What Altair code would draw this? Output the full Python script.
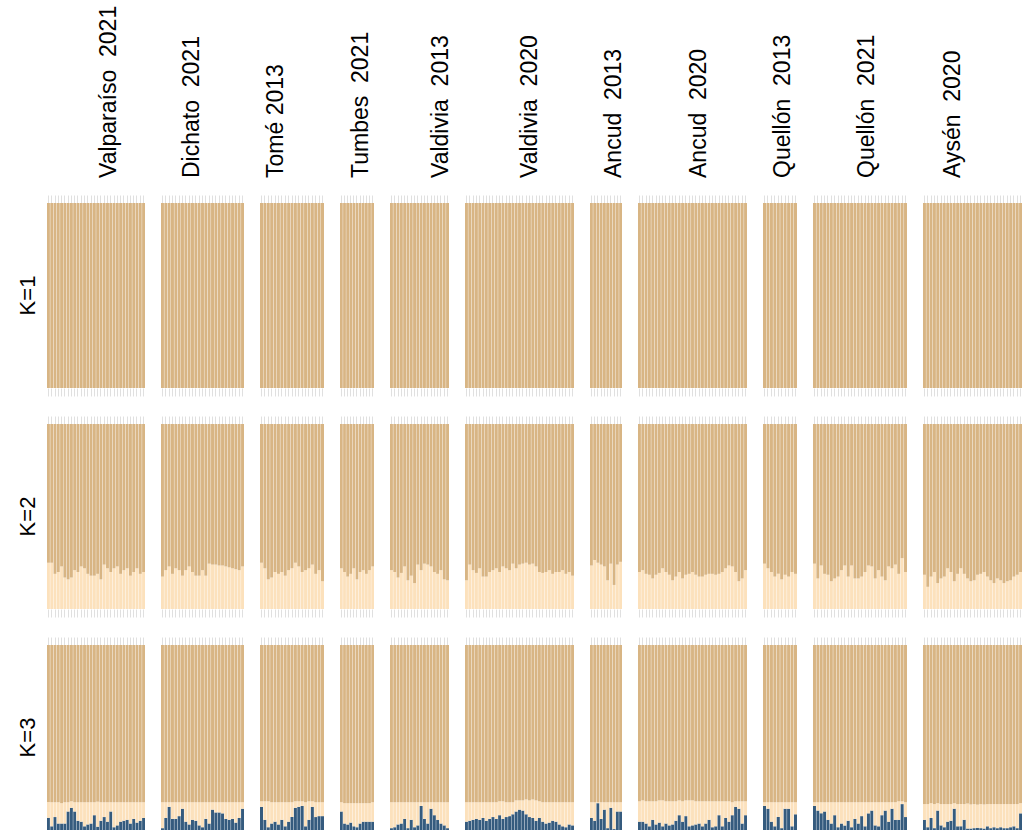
import altair as alt
import pandas as pd

# Population / sampling-year labels, left to right (non-breaking spaces keep the double gap)
populations = [
    "Valparaíso\u00a0\u00a02021", "Dichato\u00a0\u00a02021", "Tomé\u00a02013", "Tumbes\u00a0\u00a02021",
    "Valdivia\u00a0\u00a02013", "Valdivia\u00a0\u00a02020", "Ancud\u00a0\u00a02013", "Ancud\u00a0\u00a02020",
    "Quellón\u00a0\u00a02013", "Quellón\u00a0\u00a02021", "Aysén\u00a0\u00a02020",
]
k_rows = ["K=1", "K=2", "K=3"]

# K=2: membership in the light cluster for each individual (same order as populations)
k2_light = [
    [0.25, 0.25, 0.19, 0.20, 0.23, 0.17, 0.16, 0.17, 0.21, 0.20, 0.23, 0.22, 0.19, 0.18, 0.18,
     0.19, 0.16, 0.24, 0.22, 0.20, 0.22, 0.23, 0.19, 0.21, 0.22, 0.18, 0.20, 0.22, 0.19, 0.20],
    [0.175, 0.21, 0.23, 0.19, 0.22, 0.21, 0.18, 0.21, 0.23, 0.20, 0.18, 0.18, 0.21, 0.18, 0.245,
     0.24, 0.24, 0.235, 0.235, 0.23, 0.225, 0.22, 0.215, 0.21, 0.23],
    [0.25, 0.22, 0.16, 0.17, 0.20, 0.19, 0.20, 0.18, 0.21, 0.22, 0.25, 0.23, 0.20, 0.21, 0.22, 0.24,
     0.19, 0.21, 0.15],
    [0.22, 0.20, 0.175, 0.19, 0.22, 0.16, 0.20, 0.21, 0.19, 0.21, 0.23],
    [0.21, 0.20, 0.17, 0.195, 0.23, 0.155, 0.18, 0.14, 0.24, 0.21, 0.245, 0.24, 0.23, 0.20, 0.19,
     0.21, 0.16, 0.155],
    [0.155, 0.24, 0.21, 0.195, 0.22, 0.175, 0.175, 0.20, 0.21, 0.22, 0.20, 0.23, 0.22, 0.21, 0.245,
     0.22, 0.24, 0.245, 0.25, 0.24, 0.245, 0.23, 0.20, 0.195, 0.20, 0.21, 0.19, 0.20, 0.20, 0.21,
     0.19, 0.20, 0.18],
    [0.235, 0.265, 0.25, 0.24, 0.23, 0.155, 0.245, 0.13, 0.24, 0.255],
    [0.20, 0.21, 0.19, 0.185, 0.165, 0.185, 0.195, 0.22, 0.20, 0.185, 0.155, 0.175, 0.20, 0.165, 0.185,
     0.19, 0.20, 0.185, 0.175, 0.175, 0.185, 0.19, 0.19, 0.185, 0.19, 0.20, 0.22, 0.235, 0.23, 0.20,
     0.15, 0.165, 0.21],
    [0.245, 0.22, 0.20, 0.175, 0.19, 0.16, 0.185, 0.175, 0.20, 0.19],
    [0.245, 0.165, 0.235, 0.19, 0.185, 0.15, 0.165, 0.175, 0.21, 0.235, 0.175, 0.235, 0.165, 0.165,
     0.175, 0.20, 0.235, 0.23, 0.165, 0.21, 0.175, 0.155, 0.23, 0.22, 0.24, 0.19, 0.275, 0.20],
    [0.185, 0.12, 0.175, 0.20, 0.14, 0.165, 0.175, 0.22, 0.20, 0.15, 0.19, 0.22, 0.19, 0.165, 0.15,
     0.155, 0.185, 0.19, 0.20, 0.175, 0.155, 0.14, 0.165, 0.155, 0.14, 0.15, 0.155, 0.175, 0.185, 0.20],
]

# K=3: membership in the dark cluster
k3_dark = [
    [0.066, 0.02, 0.07, 0.035, 0.035, 0.035, 0.10, 0.12, 0.10, 0.05, 0.045, 0.02, 0.03, 0.035,
     0.08, 0.018, 0.05, 0.07, 0.045, 0.10, 0.015, 0.025, 0.045, 0.05, 0.055, 0.035, 0.06, 0.04,
     0.05, 0.065],
    [0.01, 0.065, 0.125, 0.06, 0.06, 0.075, 0.115, 0.045, 0.03, 0.055, 0.05, 0.025, 0.015, 0.06,
     0.035, 0.11, 0.095, 0.095, 0.09, 0.06, 0.055, 0.06, 0.04, 0.065, 0.115],
    [0.125, 0.055, 0.015, 0.035, 0.045, 0.03, 0.055, 0.02, 0.045, 0.07, 0.12, 0.125, 0.13, 0.02, 0.055,
     0.125, 0.07, 0.075, 0.075],
    [0.10, 0.035, 0.03, 0.04, 0.02, 0.015, 0.035, 0.045, 0.045, 0.045, 0.045],
    [0.01, 0.015, 0.03, 0.035, 0.06, 0.01, 0.055, 0.015, 0.025, 0.13, 0.06, 0.035, 0.115, 0.08,
     0.055, 0.035, 0.025, 0.01],
    [0.045, 0.05, 0.055, 0.06, 0.055, 0.065, 0.05, 0.06, 0.07, 0.06, 0.08, 0.06, 0.07, 0.075, 0.085,
     0.10, 0.11, 0.105, 0.085, 0.07, 0.065, 0.05, 0.065, 0.045, 0.035, 0.04, 0.05, 0.045, 0.03,
     0.02, 0.015, 0.03, 0.025],
    [0.065, 0.05, 0.145, 0.06, 0.11, 0.01, 0.12, 0.005, 0.10, 0.10],
    [0.045, 0.045, 0.035, 0.02, 0.055, 0.03, 0.04, 0.02, 0.035, 0.025, 0.03, 0.05, 0.08, 0.045, 0.075,
     0.02, 0.025, 0.03, 0.035, 0.02, 0.035, 0.055, 0.015, 0.02, 0.08, 0.02, 0.065, 0.045, 0.08, 0.125,
     0.115, 0.035, 0.08],
    [0.13, 0.115, 0.045, 0.02, 0.07, 0.01, 0.115, 0.115, 0.02, 0.085],
    [0.13, 0.105, 0.09, 0.10, 0.055, 0.035, 0.08, 0.015, 0.035, 0.025, 0.05, 0.015, 0.06, 0.035,
     0.075, 0.02, 0.09, 0.105, 0.025, 0.02, 0.08, 0.105, 0.045, 0.115, 0.055, 0.055, 0.14, 0.07],
    [0.055, 0.015, 0.065, 0.01, 0.105, 0.025, 0.015, 0.045, 0.05, 0.115, 0.02, 0.02, 0.055, 0.008,
     0.008, 0.01, 0.012, 0.01, 0.008, 0.02, 0.01, 0.015, 0.01, 0.015, 0.01, 0.01, 0.015, 0.02, 0.01,
     0.09],
]

# K=3: membership in the light cluster
k3_light = [
    [0.085, 0.13, 0.08, 0.115, 0.11, 0.115, 0.05, 0.035, 0.05, 0.10, 0.105, 0.13, 0.12, 0.115,
     0.07, 0.135, 0.10, 0.08, 0.105, 0.05, 0.135, 0.125, 0.105, 0.10, 0.095, 0.115, 0.09, 0.11,
     0.10, 0.085],
    [0.14, 0.085, 0.025, 0.09, 0.09, 0.075, 0.035, 0.105, 0.12, 0.095, 0.10, 0.125, 0.135, 0.09,
     0.115, 0.04, 0.055, 0.055, 0.06, 0.09, 0.095, 0.09, 0.11, 0.085, 0.035],
    [0.03, 0.10, 0.14, 0.115, 0.105, 0.12, 0.095, 0.13, 0.105, 0.08, 0.035, 0.03, 0.025, 0.13, 0.10,
     0.03, 0.08, 0.075, 0.075],
    [0.05, 0.11, 0.115, 0.105, 0.125, 0.13, 0.11, 0.10, 0.10, 0.10, 0.105],
    [0.14, 0.135, 0.12, 0.115, 0.09, 0.14, 0.095, 0.135, 0.125, 0.02, 0.09, 0.115, 0.035, 0.07,
     0.095, 0.115, 0.125, 0.14],
    [0.105, 0.10, 0.095, 0.09, 0.095, 0.085, 0.10, 0.09, 0.08, 0.09, 0.075, 0.095, 0.08, 0.075,
     0.065, 0.06, 0.05, 0.055, 0.08, 0.09, 0.10, 0.11, 0.09, 0.105, 0.115, 0.11, 0.10, 0.105, 0.12,
     0.13, 0.135, 0.12, 0.125],
    [0.085, 0.10, 0.005, 0.09, 0.04, 0.14, 0.03, 0.145, 0.05, 0.05],
    [0.11, 0.115, 0.12, 0.135, 0.10, 0.125, 0.12, 0.14, 0.12, 0.13, 0.125, 0.105, 0.08, 0.11, 0.085,
     0.14, 0.135, 0.125, 0.12, 0.135, 0.12, 0.10, 0.14, 0.135, 0.075, 0.135, 0.09, 0.11, 0.07, 0.03,
     0.04, 0.12, 0.075],
    [0.02, 0.035, 0.105, 0.13, 0.08, 0.14, 0.035, 0.035, 0.13, 0.065],
    [0.02, 0.045, 0.06, 0.05, 0.095, 0.115, 0.07, 0.135, 0.115, 0.125, 0.10, 0.135, 0.09, 0.115,
     0.075, 0.13, 0.06, 0.045, 0.125, 0.13, 0.07, 0.045, 0.105, 0.035, 0.095, 0.10, 0.015, 0.08],
    [0.085, 0.125, 0.08, 0.13, 0.04, 0.115, 0.125, 0.095, 0.09, 0.03, 0.12, 0.12, 0.085, 0.135, 0.13,
     0.13, 0.125, 0.13, 0.13, 0.12, 0.13, 0.125, 0.13, 0.125, 0.13, 0.13, 0.125, 0.12, 0.13, 0.055],
]

# Panel widths (px) and where each population label sits inside its panel (px from panel left)
panel_widths = [98, 83, 64, 34, 59, 109, 32, 109, 34, 94, 99]
label_offsets = [62, 31, 16, 21, 51, 65, 24, 61, 20, 54, 30]

TAN, PEACH, NAVY = "#D8B584", "#FCE1BC", "#355B7E"
TICK = "#e0e0e0"
FONT = "Liberation Sans"
PANEL_H = 185

# Long table: one row per individual x cluster x K
records = []
for p, pop in enumerate(populations):
    for i, light in enumerate(k2_light[p]):
        records.append(dict(pop=pop, K="K=1", ind=i, cluster="c1", q=1.0, order=2))
        records.append(dict(pop=pop, K="K=2", ind=i, cluster="c2", q=light, order=1))
        records.append(dict(pop=pop, K="K=2", ind=i, cluster="c1", q=1.0 - light, order=2))
        dark, mid = k3_dark[p][i], k3_light[p][i]
        records.append(dict(pop=pop, K="K=3", ind=i, cluster="c3", q=dark, order=0))
        records.append(dict(pop=pop, K="K=3", ind=i, cluster="c2", q=mid, order=1))
        records.append(dict(pop=pop, K="K=3", ind=i, cluster="c1", q=1.0 - dark - mid, order=2))
df = pd.DataFrame(records)

color_scale = alt.Scale(domain=["c3", "c2", "c1"], range=[NAVY, PEACH, TAN])
tick_axis = dict(labels=False, title=None, domain=False, grid=False,
                 tickColor=TICK, tickSize=8, tickWidth=1)


def panel(col, k):
    pop = populations[col]
    d = df[(df["pop"] == pop) & (df["K"] == k)]
    x_scale = alt.Scale(paddingInner=0.12, paddingOuter=0)
    bars = alt.Chart(d).mark_bar().encode(
        x=alt.X("ind:O", scale=x_scale, axis=alt.Axis(orient="top", **tick_axis)),
        y=alt.Y("q:Q", stack="zero", scale=alt.Scale(domain=[0, 1], nice=False), axis=None),
        color=alt.Color("cluster:N", scale=color_scale, legend=None),
        order=alt.Order("order:Q"),
    )
    layers = [bars]
    if k != "K=3":
        lower = alt.Chart(d).mark_point(opacity=0, size=1).encode(
            x=alt.X("ind:O", scale=x_scale, axis=alt.Axis(orient="bottom", **tick_axis)),
        )
        layers.append(lower)
    if k == "K=1":
        header = alt.Chart(pd.DataFrame({"t": [pop]})).mark_text(
            angle=270, align="left", baseline="middle", fontSize=23, font=FONT, color="black"
        ).encode(x=alt.value(label_offsets[col]), y=alt.value(-25), text="t:N")
        layers.append(header)
    if col == 0:
        row_label = alt.Chart(pd.DataFrame({"t": [k]})).mark_text(
            angle=270, align="center", baseline="middle", fontSize=22, font=FONT, color="black"
        ).encode(x=alt.value(-19), y=alt.value(PANEL_H / 2), text="t:N")
        layers.append(row_label)
    return alt.layer(*layers).resolve_axis(x="independent").properties(
        width=panel_widths[col], height=PANEL_H
    )


panels = [panel(c, k) for k in k_rows for c in range(len(populations))]

chart = alt.concat(
    *panels,
    columns=len(populations),
    spacing={"row": 36, "column": 16},
    align="each",
    bounds="flush",
).properties(
    padding={"left": 17, "top": 5, "right": 0, "bottom": 0},
    background="white",
).configure_view(stroke=None)

chart.save("out.html", embed_options={"renderer": "svg", "actions": False})
